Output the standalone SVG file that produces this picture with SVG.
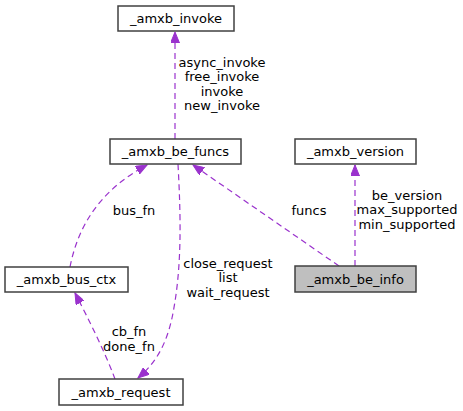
<svg xmlns="http://www.w3.org/2000/svg" width="463" height="411" viewBox="0 0 463 411">
<style>
.node rect{fill:#fff;stroke:#404040;stroke-width:1.5}
.node.cur rect{fill:#bfbfbf}
text{font-family:"DejaVu Sans",sans-serif;font-size:13px;fill:#000;text-anchor:middle}
.edge{fill:none;stroke:#9a32cd;stroke-width:1.2;stroke-dasharray:6,4}
</style>
<defs>
<marker id="ah" markerWidth="12" markerHeight="9" refX="11" refY="4.5" orient="auto" markerUnits="userSpaceOnUse">
<path d="M0,0 L11,4.5 L0,9 Z" fill="#9a32cd" stroke="#9a32cd"/>
</marker>
</defs>
<rect width="463" height="411" fill="#fff"/>
<g id="edges">
<path class="edge" d="M175,139 L175,32" marker-end="url(#ah)"/>
<path class="edge" d="M339,266 L193,165" marker-end="url(#ah)"/>
<path class="edge" d="M355,266 L355,165" marker-end="url(#ah)"/>
<path class="edge" d="M70,267 C78,226 100,190 147,165" marker-end="url(#ah)"/>
<path class="edge" d="M178,164 C181,220 182,270 172,318 C165,350 152,366 138,378" marker-end="url(#ah)"/>
<path class="edge" d="M115,379 C105,352 88,318 75,293" marker-end="url(#ah)"/>
<text x="222" y="67">async_invoke</text>
<text x="222" y="81">free_invoke</text>
<text x="222" y="96">invoke</text>
<text x="222" y="110">new_invoke</text>
<text x="309" y="215">funcs</text>
<text x="407" y="200">be_version</text>
<text x="407" y="214">max_supported</text>
<text x="407" y="229">min_supported</text>
<text x="134" y="215">bus_fn</text>
<text x="228" y="268">close_request</text>
<text x="228" y="282">list</text>
<text x="228" y="297">wait_request</text>
<text x="129" y="336">cb_fn</text>
<text x="129" y="351">done_fn</text>
</g>
<g id="n_invoke" class="node"><rect x="118" y="6" width="116" height="25"/><text x="176" y="23">_amxb_invoke</text></g>
<g id="n_be_funcs" class="node"><rect x="110" y="139" width="131" height="25"/><text x="175.5" y="156">_amxb_be_funcs</text></g>
<g id="n_version" class="node"><rect x="295" y="139" width="121" height="25"/><text x="355.5" y="156">_amxb_version</text></g>
<g id="n_be_info" class="node cur"><rect x="295" y="266" width="121" height="26"/><text x="355.5" y="284">_amxb_be_info</text></g>
<g id="n_bus_ctx" class="node"><rect x="5" y="267" width="123" height="25"/><text x="66.5" y="284">_amxb_bus_ctx</text></g>
<g id="n_request" class="node"><rect x="59" y="379" width="124" height="26"/><text x="121" y="397">_amxb_request</text></g>
</svg>
